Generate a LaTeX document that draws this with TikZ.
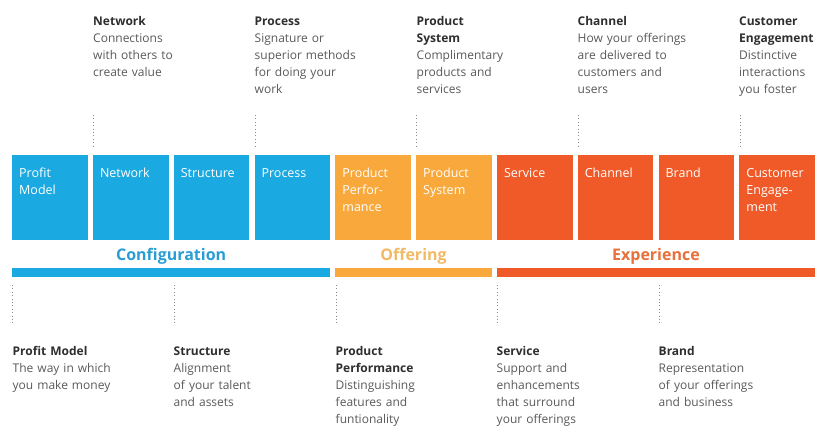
\documentclass[tikz,border=0pt]{standalone}
\usepackage{fontspec}
\setmainfont{Open Sans}
\usetikzlibrary{calc}
\definecolor{cblue}{HTML}{1BA9E1}
\definecolor{corange}{HTML}{F9A93B}
\definecolor{cred}{HTML}{F05A28}
\definecolor{descgrey}{HTML}{5A5A5A}
\definecolor{headgrey}{HTML}{2E2E2E}
\definecolor{dotgrey}{HTML}{8A8A8A}
\definecolor{tblue}{HTML}{2A9ED4}
\definecolor{torange}{HTML}{F2BA66}
\definecolor{tred}{HTML}{E8703A}
\begin{document}
\begin{tikzpicture}[x=1pt,y=-1pt,
  box/.style={minimum width=75.5pt,minimum height=85pt,inner sep=0pt,anchor=north west},
  boxtxt/.style={anchor=base west,inner sep=0pt,align=left,text width=70pt,text=white,font=\fontsize{12.5}{17}\selectfont},
  desc/.style={anchor=base west,inner sep=0pt,align=left,text width=110pt,text=descgrey,font=\fontsize{12}{17}\selectfont},
  bar/.style={inner sep=0pt},
  cat/.style={anchor=base,inner sep=0pt,font=\fontsize{16}{18}\selectfont\bfseries},
  dots/.style={draw=dotgrey,line width=0.9pt,dash pattern=on 1pt off 2.4pt}]
\useasboundingbox[fill=white] (0,0) rectangle (819,428);
% boxes
\foreach \i/\c/\t in {1/cblue/{Profit\\Model},2/cblue/Network,3/cblue/Structure,4/cblue/Process,
  5/corange/{Product\\Perfor-\\mance},6/corange/{Product\\System},
  7/cred/Service,8/cred/Channel,9/cred/Brand,10/cred/{Customer\\Engage-\\ment}}{
  \node[box,fill=\c] (b\i) at ({12+80.8*(\i-1)},155) {};
  \node[boxtxt] (l\i) at ([xshift=7pt,yshift=-22.5pt]b\i.north west) {\t};
}
% bars
\path[fill=cblue] (b1.west |- 0,268) coordinate (bar1a) rectangle (b4.east |- 0,276.5) coordinate (bar1b);
\path[fill=corange] (b5.west |- 0,268) coordinate (bar2a) rectangle (b6.east |- 0,276.5) coordinate (bar2b);
\path[fill=cred] (b7.west |- 0,268) coordinate (bar3a) rectangle (b10.east |- 0,276.5) coordinate (bar3b);
\node[cat,text=tblue] (c1) at ($(bar1a)!0.5!(bar1b |- bar1a)+(0,-8)$) {Configuration};
\node[cat,text=torange] (c2) at ($(bar2a)!0.5!(bar2b |- bar2a)+(0,-8)$) {Offering};
\node[cat,text=tred] (c3) at ($(bar3a)!0.5!(bar3b |- bar3a)+(0,-8)$) {Experience};
% top descriptions
\node[desc] (d2) at (93,25.5) {\textcolor{headgrey}{\bfseries Network}\\Connections\\with others to\\create value};
\node[desc] (d4) at (254.5,25.5) {\textcolor{headgrey}{\bfseries Process}\\Signature or\\superior methods\\for doing your\\work};
\node[desc] (d6) at (416.5,25.5) {\textcolor{headgrey}{\bfseries Product}\\\textcolor{headgrey}{\bfseries System}\\Complimentary\\products and\\services};
\node[desc] (d8) at (577.5,25.5) {\textcolor{headgrey}{\bfseries Channel}\\How your offerings\\are delivered to\\customers and\\users};
\node[desc] (d10) at (739,25.5) {\textcolor{headgrey}{\bfseries Customer}\\\textcolor{headgrey}{\bfseries Engagement}\\Distinctive\\interactions\\you foster};
% bottom descriptions
\node[desc] (d1) at (12.5,355.5) {\textcolor{headgrey}{\bfseries Profit Model}\\The way in which\\you make money};
\node[desc] (d3) at (173.5,355.5) {\textcolor{headgrey}{\bfseries Structure}\\Alignment\\of your talent\\and assets};
\node[desc] (d5) at (335.5,355.5) {\textcolor{headgrey}{\bfseries Product}\\\textcolor{headgrey}{\bfseries Performance}\\Distinguishing\\features and\\funtionality};
\node[desc] (d7) at (496.5,355.5) {\textcolor{headgrey}{\bfseries Service}\\Support and\\enhancements\\that surround\\your offerings};
\node[desc] (d9) at (658.5,355.5) {\textcolor{headgrey}{\bfseries Brand}\\Representation\\of your offerings\\and business};
% dotted connectors top
\foreach \i in {2,4,6,8,10}{
  \coordinate (ta\i) at ([xshift=0.8pt]b\i.north west |- 0,115);
  \coordinate (tb\i) at ([xshift=0.8pt,yshift=8pt]b\i.north west);
  \draw[dots] (ta\i) -- (tb\i);
}
% dotted connectors bottom
\foreach \i in {1,3,5,7,9}{
  \coordinate (ba\i) at ([xshift=0.8pt]b\i.south west |- 0,285);
  \coordinate (bb\i) at ([xshift=0.8pt]b\i.south west |- 0,324);
  \draw[dots] (ba\i) -- (bb\i);
}
\end{tikzpicture}
\end{document}
